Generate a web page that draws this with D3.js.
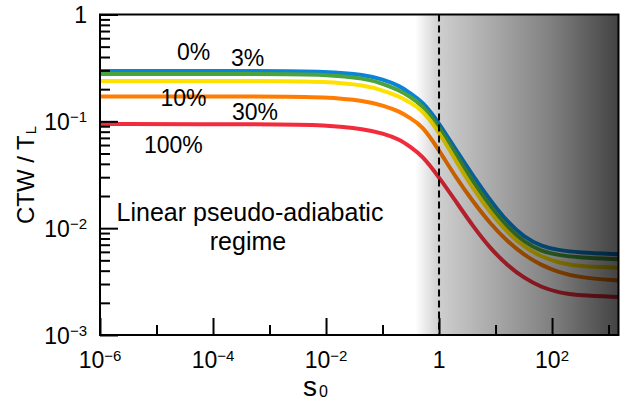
<!DOCTYPE html>
<html>
<head>
<meta charset="utf-8">
<script src="https://cdn.jsdelivr.net/npm/d3@7"></script>
<style>
  body { margin: 0; background: #fff; }
  svg { font-family: "Liberation Sans", Arial, sans-serif; }
</style>
</head>
<body>
<svg id="chart" width="630" height="401"></svg>
<script>
// saturation parameter s0 (shared x grid for all curves)
const s0 = [1e-6, 1e-3, 1e-2, 0.05, 0.1, 0.2, 0.3, 0.5, 1, 2, 4, 8, 16, 32, 64, 128, 300, 1500];

// CTW / T_L, one array per curve
const ctw0   = [0.296, 0.296, 0.293, 0.272, 0.247, 0.215, 0.185, 0.155, 0.0968, 0.0536, 0.0310, 0.0183, 0.0115, 0.00824, 0.00679, 0.00623, 0.00590, 0.00571];
const ctw3   = [0.278, 0.278, 0.275, 0.252, 0.226, 0.195, 0.171, 0.143, 0.0889, 0.0486, 0.0272, 0.0161, 0.0102, 0.00740, 0.00610, 0.00559, 0.00530, 0.00513];
const ctw10  = [0.239, 0.239, 0.236, 0.217, 0.195, 0.171, 0.151, 0.129, 0.0798, 0.0423, 0.0234, 0.0140, 0.00918, 0.00664, 0.00542, 0.00476, 0.00437, 0.00427];
const ctw30  = [0.171, 0.171, 0.169, 0.155, 0.141, 0.124, 0.108, 0.0918, 0.0536, 0.0297, 0.0177, 0.0111, 0.00756, 0.00559, 0.00451, 0.00388, 0.00345, 0.00323];
const ctw100 = [0.0942, 0.0942, 0.0928, 0.0842, 0.0773, 0.0679, 0.0584, 0.0481, 0.0300, 0.0177, 0.0104, 0.00650, 0.00451, 0.00341, 0.00281, 0.00250, 0.00234, 0.00227];

const seriesNames = ["0%", "3%", "10%", "30%", "100%"];
const seriesValues = [ctw0, ctw3, ctw10, ctw30, ctw100];
const colors = ["#0a84d8", "#4aa33b", "#ffe100", "#ff7c00", "#f22c3c"];

// axis ticks
const xMajor = [1e-6, 1e-4, 1e-2, 1, 1e2];
const xMinor = [1e-5, 1e-3, 1e-1, 10, 1e3];
const yMajor = [1e-3, 1e-2, 1e-1, 1];

const svg = d3.select("#chart");
const mLeft = 100, mRight = 618.5, mTop = 14.5, mBottom = 335;

const x = d3.scaleLog().domain([1e-6, 1500]).range([mLeft, mRight]);
const y = d3.scaleLog().domain([1e-3, 1]).range([mBottom, mTop]);

// y minor ticks: 2..9 in each decade
const yMinor = [];
[1e-3, 1e-2, 1e-1].forEach(d => { for (let k = 2; k <= 9; k++) yMinor.push(d * k); });

const defs = svg.append("defs");
defs.append("clipPath").attr("id", "plotclip")
  .append("rect").attr("x", mLeft).attr("y", mTop)
  .attr("width", mRight - mLeft).attr("height", mBottom - mTop);

// dark shading for s0 > 1 (drawn on top of the curves)
const shadeFrom = 0.38;
const grad = defs.append("linearGradient")
  .attr("id", "shade")
  .attr("gradientUnits", "userSpaceOnUse")
  .attr("x1", x(shadeFrom)).attr("x2", mRight).attr("y1", 0).attr("y2", 0);
const gStops = [[shadeFrom, 0], [1, 0.19], [100, 0.5], [1500, 0.74]];
gStops.forEach(([s, o]) => {
  grad.append("stop")
    .attr("offset", (x(s) - x(shadeFrom)) / (mRight - x(shadeFrom)))
    .attr("stop-color", "#000").attr("stop-opacity", o);
});

const plot = svg.append("g").attr("clip-path", "url(#plotclip)");

const line = d3.line()
  .x(d => x(d[0]))
  .y(d => y(d[1]))
  .curve(d3.curveBasis);

plot.selectAll("path.curve")
  .data(seriesValues)
  .join("path")
    .attr("class", "curve")
    .attr("fill", "none")
    .attr("stroke", (d, i) => colors[i])
    .attr("stroke-width", 4)
    .attr("d", vals => line(vals.map((v, i) => [s0[i], v])));

// shading overlay
plot.append("rect")
  .attr("x", x(shadeFrom)).attr("y", mTop)
  .attr("width", mRight - x(shadeFrom)).attr("height", mBottom - mTop)
  .attr("fill", "url(#shade)");

// dashed line at s0 = 1
svg.append("line")
  .attr("x1", x(1)).attr("x2", x(1))
  .attr("y1", mTop).attr("y2", mBottom)
  .attr("stroke", "#000").attr("stroke-width", 2)
  .attr("stroke-dasharray", "7,4");

// ticks (inward)
function ticks(axis, g) {
  g.call(axis);
  g.select(".domain").remove();
  g.selectAll(".tick line").attr("stroke", "#000").attr("stroke-width", 2);
}
ticks(d3.axisBottom(x).tickValues(xMajor).tickSize(-17).tickFormat(""),
  svg.append("g").attr("transform", `translate(0,${mBottom})`));
ticks(d3.axisBottom(x).tickValues(xMinor).tickSize(-10).tickFormat(""),
  svg.append("g").attr("transform", `translate(0,${mBottom})`));
ticks(d3.axisLeft(y).tickValues(yMajor).tickSize(-18).tickFormat(""),
  svg.append("g").attr("transform", `translate(${mLeft},0)`));
ticks(d3.axisLeft(y).tickValues(yMinor).tickSize(-10).tickFormat(""),
  svg.append("g").attr("transform", `translate(${mLeft},0)`));

// frame
svg.append("rect")
  .attr("x", mLeft).attr("y", mTop)
  .attr("width", mRight - mLeft).attr("height", mBottom - mTop)
  .attr("fill", "none").attr("stroke", "#000").attr("stroke-width", 2);

// power-of-ten labels
function powLabel(sel, v) {
  const e = Math.round(Math.log10(v));
  if (e === 0) { sel.text("1"); return; }
  sel.append("tspan").text("10");
  sel.append("tspan").attr("font-size", 15).attr("dy", -7.5)
    .text(e < 0 ? "\u2212" + (-e) : String(e));
}

svg.append("g").selectAll("text")
  .data(xMajor).join("text")
    .attr("x", d => x(d)).attr("y", 368)
    .attr("text-anchor", "middle").attr("font-size", 23)
    .each(function(d) { powLabel(d3.select(this), d); });

svg.append("g").selectAll("text")
  .data(yMajor).join("text")
    .attr("x", 87).attr("y", d => y(d) + 8.5)
    .attr("text-anchor", "end").attr("font-size", 23)
    .each(function(d) { powLabel(d3.select(this), d); });

// axis titles
const xt = svg.append("text").attr("x", 303).attr("y", 396).attr("font-size", 28);
xt.append("tspan").text("s");
xt.append("tspan").attr("font-size", 16).attr("dx", 2).attr("dy", 1).text("0");

const yt = svg.append("text")
  .attr("transform", "translate(33.5,175) rotate(-90)")
  .attr("text-anchor", "middle").attr("font-size", 24);
yt.append("tspan").text("CTW / T");
yt.append("tspan").attr("font-size", 15).attr("dx", 1).attr("dy", 2).text("L");

// curve labels
const labelPos = [[177, 60], [231, 66], [160.5, 106], [232, 120], [144, 152.5]];
svg.append("g").selectAll("text")
  .data(seriesNames).join("text")
    .attr("x", (d, i) => labelPos[i][0]).attr("y", (d, i) => labelPos[i][1])
    .attr("font-size", 23)
    .text(d => d);

// regime annotation
const note = svg.append("text").attr("text-anchor", "middle").attr("font-size", 25);
note.append("tspan").attr("x", 250).attr("y", 221).text("Linear pseudo-adiabatic");
note.append("tspan").attr("x", 248).attr("y", 250).text("regime");
</script>
</body>
</html>
